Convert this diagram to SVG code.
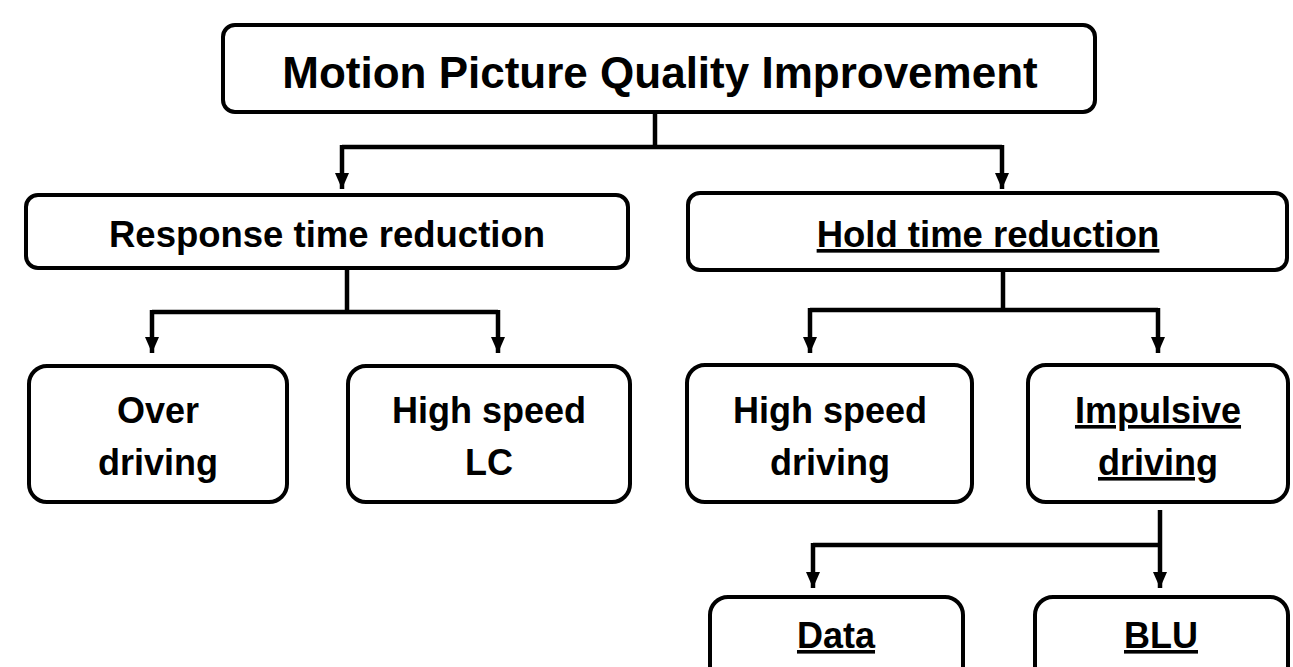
<svg xmlns="http://www.w3.org/2000/svg" width="1293" height="667" viewBox="0 0 1293 667">
<style>
.box{fill:#fff;stroke:#000;stroke-width:4}
.t{font-family:"Liberation Sans",Arial,sans-serif;font-weight:bold;fill:#000;text-anchor:middle}
.u{text-decoration:underline}
.c{fill:none;stroke:#000;stroke-width:4.5;stroke-linejoin:miter}
</style>
<defs>
<marker id="arr" markerUnits="userSpaceOnUse" markerWidth="16" markerHeight="16" refX="16" refY="7" orient="auto" viewBox="0 0 16 14">
<path d="M0,0 L16,7 L0,14 Z" fill="#000"/>
</marker>
</defs>
<rect width="1293" height="667" fill="#fff"/>
<g id="connectors">
<path class="c" d="M655,112 V147"/>
<path class="c" d="M342,147 H1002"/>
<path class="c" d="M342,145 V189" marker-end="url(#arr)"/>
<path class="c" d="M1002,145 V189" marker-end="url(#arr)"/>
<path class="c" d="M347,268 V312"/>
<path class="c" d="M152,312 H498"/>
<path class="c" d="M152,310 V353" marker-end="url(#arr)"/>
<path class="c" d="M498,310 V353" marker-end="url(#arr)"/>
<path class="c" d="M1003,270 V310"/>
<path class="c" d="M810,310 H1158"/>
<path class="c" d="M810,308 V353" marker-end="url(#arr)"/>
<path class="c" d="M1158,308 V353" marker-end="url(#arr)"/>
<path class="c" d="M1160,510 V588" marker-end="url(#arr)"/>
<path class="c" d="M813,545 H1160"/>
<path class="c" d="M813,543 V588" marker-end="url(#arr)"/>
</g>
<g id="top">
<rect class="box" x="223" y="25" width="872" height="87" rx="12"/>
<text class="t" x="660" y="88" font-size="44">Motion Picture Quality Improvement</text>
</g>
<g id="response">
<rect class="box" x="26" y="195" width="602" height="73" rx="12"/>
<text class="t" x="327" y="247" font-size="36.5">Response time reduction</text>
</g>
<g id="hold">
<rect class="box" x="688" y="193" width="599" height="77" rx="12"/>
<text class="t u" x="988" y="247" font-size="36.5">Hold time reduction</text>
</g>
<g id="overdriving">
<rect class="box" x="29" y="366" width="258" height="136" rx="18"/>
<text class="t" x="158" y="423" font-size="36">Over</text>
<text class="t" x="158" y="475" font-size="36">driving</text>
</g>
<g id="highspeedlc">
<rect class="box" x="348" y="366" width="282" height="136" rx="18"/>
<text class="t" x="489" y="423" font-size="36">High speed</text>
<text class="t" x="489" y="475" font-size="36">LC</text>
</g>
<g id="highspeeddriving">
<rect class="box" x="687" y="365" width="285" height="137" rx="18"/>
<text class="t" x="830" y="423" font-size="36">High speed</text>
<text class="t" x="830" y="475" font-size="36">driving</text>
</g>
<g id="impulsive">
<rect class="box" x="1028" y="365" width="260" height="137" rx="18"/>
<text class="t u" x="1158" y="423" font-size="36">Impulsive</text>
<text class="t u" x="1158" y="475" font-size="36">driving</text>
</g>
<g id="data">
<rect class="box" x="710" y="597" width="253" height="100" rx="18"/>
<text class="t u" x="836" y="648" font-size="36">Data</text>
</g>
<g id="blu">
<rect class="box" x="1035" y="597" width="253" height="100" rx="18"/>
<text class="t u" x="1161" y="648" font-size="36">BLU</text>
</g>
</svg>
